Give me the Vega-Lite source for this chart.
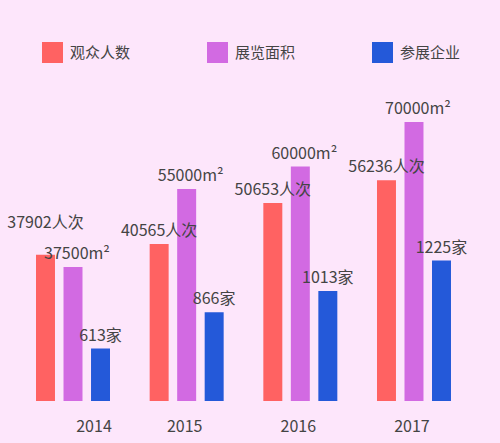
{
  "$schema": "https://vega.github.io/schema/vega-lite/v6.json",
  "width": 500,
  "height": 401,
  "autosize": "none",
  "padding": {"left": 0, "top": 0, "right": 0, "bottom": 42},
  "background": "#fde6fb",
  "config": {
    "view": {"stroke": null},
    "font": "Noto Sans CJK SC",
    "text": {"baseline": "alphabetic", "dy": -8, "fontSize": 16, "color": "#444444"}
  },
  "data": {
    "values": [
      {"year": "2014", "series": "观众人数", "value": 37902, "label": "37902人次"},
      {"year": "2014", "series": "展览面积", "value": 37500, "label": "37500m²"},
      {"year": "2014", "series": "参展企业", "value": 613, "label": "613家"},
      {"year": "2015", "series": "观众人数", "value": 40565, "label": "40565人次"},
      {"year": "2015", "series": "展览面积", "value": 55000, "label": "55000m²"},
      {"year": "2015", "series": "参展企业", "value": 866, "label": "866家"},
      {"year": "2016", "series": "观众人数", "value": 50653, "label": "50653人次"},
      {"year": "2016", "series": "展览面积", "value": 60000, "label": "60000m²"},
      {"year": "2016", "series": "参展企业", "value": 1013, "label": "1013家"},
      {"year": "2017", "series": "观众人数", "value": 56236, "label": "56236人次"},
      {"year": "2017", "series": "展览面积", "value": 70000, "label": "70000m²"},
      {"year": "2017", "series": "参展企业", "value": 1225, "label": "1225家"}
    ]
  },
  "encoding": {
    "x": {
      "field": "year",
      "type": "nominal",
      "title": null,
      "scale": {"paddingInner": 0.349, "paddingOuter": 0.374, "align": 0.4235},
      "axis": {
        "domain": false,
        "ticks": false,
        "labelAngle": 0,
        "labelPadding": 17,
        "labelFontSize": 16,
        "labelColor": "#444444",
        "labelOffset": {"condition": {"test": "datum.value === '2014'", "value": 21}, "value": -2}
      }
    },
    "xOffset": {
      "field": "series",
      "type": "nominal",
      "scale": {"domain": ["观众人数", "展览面积", "参展企业"], "paddingInner": 0.31, "paddingOuter": 0}
    }
  },
  "layer": [
    {
      "transform": [{"filter": "datum.series === '观众人数'"}],
      "mark": "bar",
      "encoding": {
        "y": {"field": "value", "type": "quantitative", "scale": {"domain": [1877, 100645], "clamp": true}, "axis": null},
        "color": {
          "field": "series",
          "type": "nominal",
          "scale": {"domain": ["观众人数", "展览面积", "参展企业"], "range": ["#ff6262", "#d26ae2", "#2459d9"]},
          "legend": {
            "orient": "none",
            "legendX": 42,
            "legendY": 42,
            "direction": "horizontal",
            "title": null,
            "symbolType": "square",
            "symbolSize": 441,
            "symbolStrokeWidth": 0,
            "symbolOpacity": 1,
            "labelFontSize": 15,
            "labelColor": "#444444",
            "labelOffset": 7,
            "columnPadding": 76
          }
        }
      }
    },
    {
      "transform": [{"filter": "datum.series === '展览面积'"}],
      "mark": "bar",
      "encoding": {
        "y": {"field": "value", "type": "quantitative", "scale": {"domain": [7503, 97313], "clamp": true}, "axis": null},
        "color": {"field": "series", "type": "nominal"}
      }
    },
    {
      "transform": [{"filter": "datum.series === '参展企业'"}],
      "mark": "bar",
      "encoding": {
        "y": {"field": "value", "type": "quantitative", "scale": {"domain": [248, 3038], "clamp": true}, "axis": null},
        "color": {"field": "series", "type": "nominal"}
      }
    },
    {
      "transform": [{"filter": "datum.series === '观众人数' && datum.year !== '2014'"}],
      "mark": {"type": "text"},
      "encoding": {
        "y": {"field": "value", "type": "quantitative", "scale": {"domain": [1877, 100645], "clamp": true}, "axis": null},
        "text": {"field": "label"}
      }
    },
    {
      "transform": [{"filter": "datum.series === '观众人数' && datum.year === '2014'"}],
      "mark": {"type": "text", "dy": -27},
      "encoding": {
        "y": {"field": "value", "type": "quantitative", "scale": {"domain": [1877, 100645], "clamp": true}, "axis": null},
        "text": {"field": "label"}
      }
    },
    {
      "transform": [{"filter": "datum.series === '展览面积'"}],
      "mark": {"type": "text", "dx": 4},
      "encoding": {
        "y": {"field": "value", "type": "quantitative", "scale": {"domain": [7503, 97313], "clamp": true}, "axis": null},
        "text": {"field": "label"}
      }
    },
    {
      "transform": [{"filter": "datum.series === '参展企业'"}],
      "mark": {"type": "text"},
      "encoding": {
        "y": {"field": "value", "type": "quantitative", "scale": {"domain": [248, 3038], "clamp": true}, "axis": null},
        "text": {"field": "label"}
      }
    }
  ],
  "resolve": {"scale": {"y": "independent"}}
}
